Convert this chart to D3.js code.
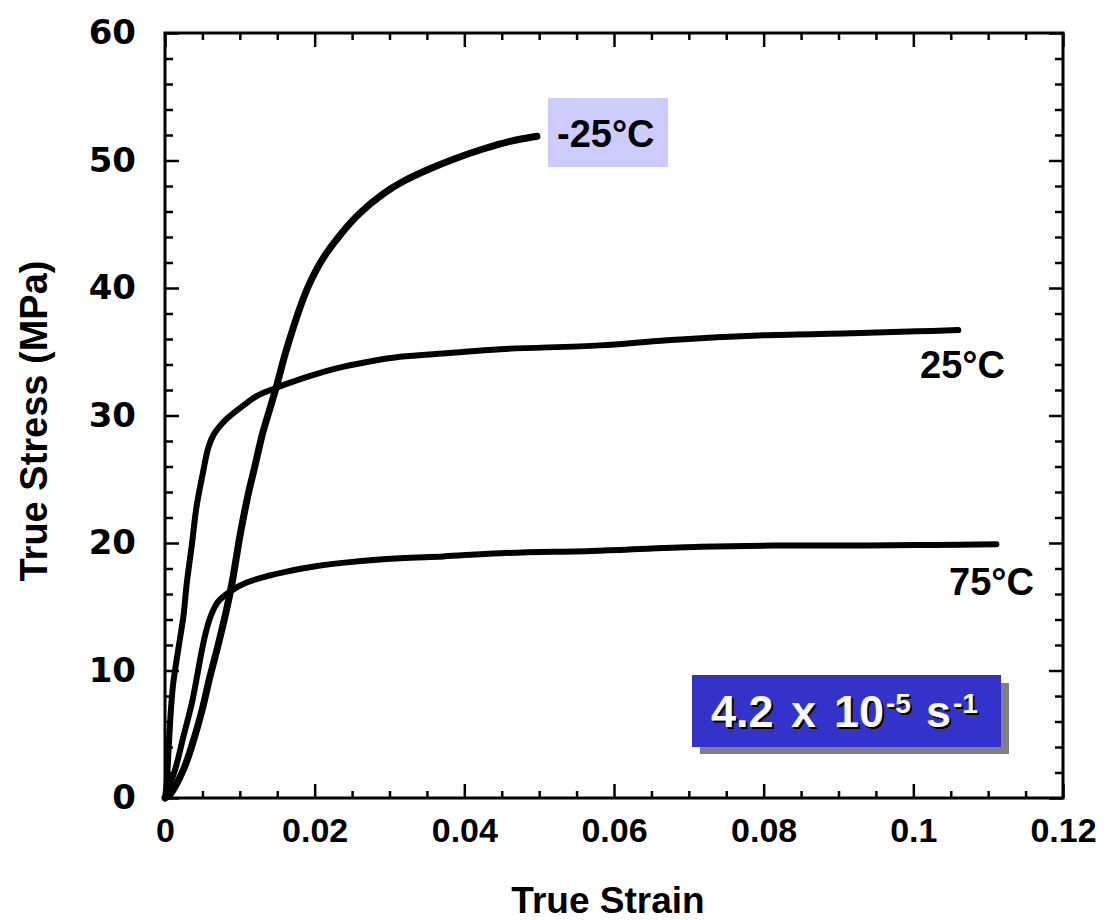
<!DOCTYPE html>
<html>
<head>
<meta charset="utf-8">
<script src="https://cdn.jsdelivr.net/npm/d3@7"></script>
<style>
  html, body { margin: 0; padding: 0; background: #fff; }
  svg { display: block; }
</style>
</head>
<body>
<svg id="chart" width="1107" height="920"></svg>
<script>
// ---- Data (strain, stress in MPa) ----
const seriesNames = ["-25°C", "25°C", "75°C"];

const curveM25 = [
  [0,0],[0.0007,0.3],[0.00245,2.2],[0.0038,4.5],[0.0050,7.0],[0.0060,9.5],
  [0.0071,12.0],[0.0082,14.7],[0.0090,17.0],[0.0100,20.5],[0.0110,23.5],
  [0.0120,26.0],[0.0130,28.5],[0.0140,30.5],[0.0150,32.5],[0.0160,34.7],
  [0.0172,37.0],[0.0185,39.2],[0.0196,40.7],[0.0212,42.4],[0.0236,44.3],
  [0.0261,45.9],[0.0292,47.4],[0.0318,48.35],[0.0354,49.35],[0.0390,50.2],
  [0.0425,50.9],[0.0461,51.5],[0.0497,51.9]
];

const curve25 = [
  [0,0],[0.0002,1.0],[0.0005,4.0],[0.0008,7.0],[0.0011,9.0],[0.0016,11.0],
  [0.0020,12.5],[0.00245,14.2],[0.0029,16.8],[0.0033,18.6],[0.0036,19.9],
  [0.0042,22.8],[0.0050,25.3],[0.0058,27.5],[0.0065,28.5],[0.0080,29.6],
  [0.0105,30.8],[0.0125,31.6],[0.0150,32.2],[0.0176,32.75],[0.0194,33.1],
  [0.0229,33.7],[0.0270,34.2],[0.0314,34.6],[0.0380,34.9],[0.0448,35.2],
  [0.0581,35.5],[0.0671,35.9],[0.0804,36.3],[0.0916,36.45],[0.1005,36.6],
  [0.1060,36.7]
];

const curve75 = [
  [0,0],[0.0002,0.35],[0.00134,2.2],[0.00245,4.8],[0.00357,7.4],[0.0043,9.6],
  [0.0049,11.5],[0.0055,13.1],[0.0062,14.4],[0.0071,15.4],[0.0087,16.2],
  [0.0109,16.9],[0.0140,17.45],[0.0158,17.7],[0.0203,18.2],[0.0247,18.5],
  [0.0314,18.8],[0.0372,18.95],[0.0448,19.2],[0.0581,19.4],[0.0715,19.7],
  [0.0813,19.8],[0.0938,19.8],[0.1027,19.85],[0.1111,19.9]
];

const xTicks = [0, 0.02, 0.04, 0.06, 0.08, 0.1, 0.12];
const xTickLabels = ["0", "0.02", "0.04", "0.06", "0.08", "0.1", "0.12"];
const yTicks = [0, 10, 20, 30, 40, 50, 60];
const yTickLabels = ["0", "10", "20", "30", "40", "50", "60"];
const xMinorStep = 0.005;
const yMinorStep = 2;

// ---- Layout ----
const svg = d3.select("#chart");
const L = 165, R = 1063, T = 33, B = 798;
const x = d3.scaleLinear().domain([0, 0.12]).range([L, R]);
const y = d3.scaleLinear().domain([0, 60]).range([B, T]);

const FONT = "'Liberation Sans', Arial, Helvetica, sans-serif";

const xMinor = d3.range(0, 0.12 + 1e-9, xMinorStep).filter(v => !xTicks.some(t => Math.abs(t - v) < 1e-9));
const yMinor = d3.range(0, 60 + 1e-9, yMinorStep).filter(v => !yTicks.some(t => Math.abs(t - v) < 1e-9));

function styleAxis(g) {
  g.select(".domain").remove();
  g.selectAll(".tick line").attr("stroke", "#000").attr("stroke-width", 2.5);
}

// major + minor ticks on all four sides (inward)
svg.append("g").attr("transform", `translate(0,${B})`)
  .call(d3.axisBottom(x).tickValues(xTicks).tickSize(-14).tickPadding(20)
    .tickFormat((d, i) => xTickLabels[i]))
  .call(styleAxis)
  .call(g => g.selectAll("text").attr("font-family", FONT).attr("font-weight", "bold")
    .attr("font-size", 34).attr("fill", "#000").attr("dy", "0.71em"));
svg.append("g").attr("transform", `translate(0,${B})`)
  .call(d3.axisBottom(x).tickValues(xMinor).tickSize(-7).tickFormat(""))
  .call(styleAxis);
svg.append("g").attr("transform", `translate(0,${T})`)
  .call(d3.axisTop(x).tickValues(xTicks).tickSize(-14).tickFormat(""))
  .call(styleAxis);
svg.append("g").attr("transform", `translate(0,${T})`)
  .call(d3.axisTop(x).tickValues(xMinor).tickSize(-7).tickFormat(""))
  .call(styleAxis);

svg.append("g").attr("transform", `translate(${L},0)`)
  .call(d3.axisLeft(y).tickValues(yTicks).tickSize(-14).tickPadding(29)
    .tickFormat((d, i) => yTickLabels[i]))
  .call(styleAxis)
  .call(g => g.selectAll("text").attr("font-family", "'DejaVu Sans', Verdana, sans-serif")
    .attr("font-weight", "bold").attr("font-size", 34).attr("fill", "#000"));
svg.append("g").attr("transform", `translate(${L},0)`)
  .call(d3.axisLeft(y).tickValues(yMinor).tickSize(-8).tickFormat(""))
  .call(styleAxis);
svg.append("g").attr("transform", `translate(${R},0)`)
  .call(d3.axisRight(y).tickValues(yTicks).tickSize(-14).tickFormat(""))
  .call(styleAxis);
svg.append("g").attr("transform", `translate(${R},0)`)
  .call(d3.axisRight(y).tickValues(yMinor).tickSize(-8).tickFormat(""))
  .call(styleAxis);

// frame
svg.append("rect").attr("x", L).attr("y", T).attr("width", R - L).attr("height", B - T)
  .attr("fill", "none").attr("stroke", "#000").attr("stroke-width", 3);

// ---- Curves ----
const line = d3.line().x(d => x(d[0])).y(d => y(d[1])).curve(d3.curveCatmullRom.alpha(0.5));
[curveM25, curve25, curve75].forEach((c, i) => {
  svg.append("path").datum(c).attr("d", line)
    .attr("fill", "none").attr("stroke", "#000")
    .attr("stroke-width", i === 0 ? 7 : 6)
    .attr("stroke-linecap", "round").attr("stroke-linejoin", "round");
});

// ---- Series labels ----
svg.append("rect").attr("x", 548).attr("y", 98).attr("width", 120).attr("height", 69).attr("fill", "#ccccff");
svg.append("text").attr("x", 557).attr("y", 147).text(seriesNames[0])
  .attr("font-family", FONT).attr("font-weight", "bold").attr("font-size", 38).attr("fill", "#000");
svg.append("text").attr("x", 920).attr("y", 378).text(seriesNames[1])
  .attr("font-family", FONT).attr("font-weight", "bold").attr("font-size", 38).attr("fill", "#000");
svg.append("text").attr("x", 949).attr("y", 595).text(seriesNames[2])
  .attr("font-family", FONT).attr("font-weight", "bold").attr("font-size", 38).attr("fill", "#000");

// ---- Strain-rate box ----
svg.append("rect").attr("x", 700).attr("y", 683).attr("width", 309).attr("height", 71).attr("fill", "#808080");
svg.append("rect").attr("x", 692).attr("y", 675).attr("width", 309).attr("height", 72).attr("fill", "#3333cc");
function rateText(dx, dy, fill) {
  const t = svg.append("text").attr("font-family", FONT).attr("font-weight", "bold")
    .attr("fill", fill).attr("font-size", 45);
  t.append("tspan").attr("x", 711 + dx).attr("y", 727 + dy).text("4.2");
  t.append("tspan").attr("x", 791 + dx).attr("y", 727 + dy).text("x");
  t.append("tspan").attr("x", 834 + dx).attr("y", 727 + dy).text("10");
  t.append("tspan").attr("x", 886 + dx).attr("y", 713 + dy).attr("font-size", 28).text("-5");
  t.append("tspan").attr("x", 926 + dx).attr("y", 727 + dy).text("s");
  t.append("tspan").attr("x", 953 + dx).attr("y", 713 + dy).attr("font-size", 28).text("-1");
}
rateText(2, 2, "#000");
rateText(0, 0, "#fff");

// ---- Axis titles ----
svg.append("text").attr("x", (L + R) / 2 - 6).attr("y", 913).attr("text-anchor", "middle")
  .attr("font-family", FONT).attr("font-weight", "bold").attr("font-size", 37).text("True Strain");
svg.append("text").attr("transform", "translate(47,421) rotate(-90)").attr("text-anchor", "middle")
  .attr("font-family", FONT).attr("font-weight", "bold").attr("font-size", 38).text("True Stress (MPa)");
</script>
</body>
</html>
